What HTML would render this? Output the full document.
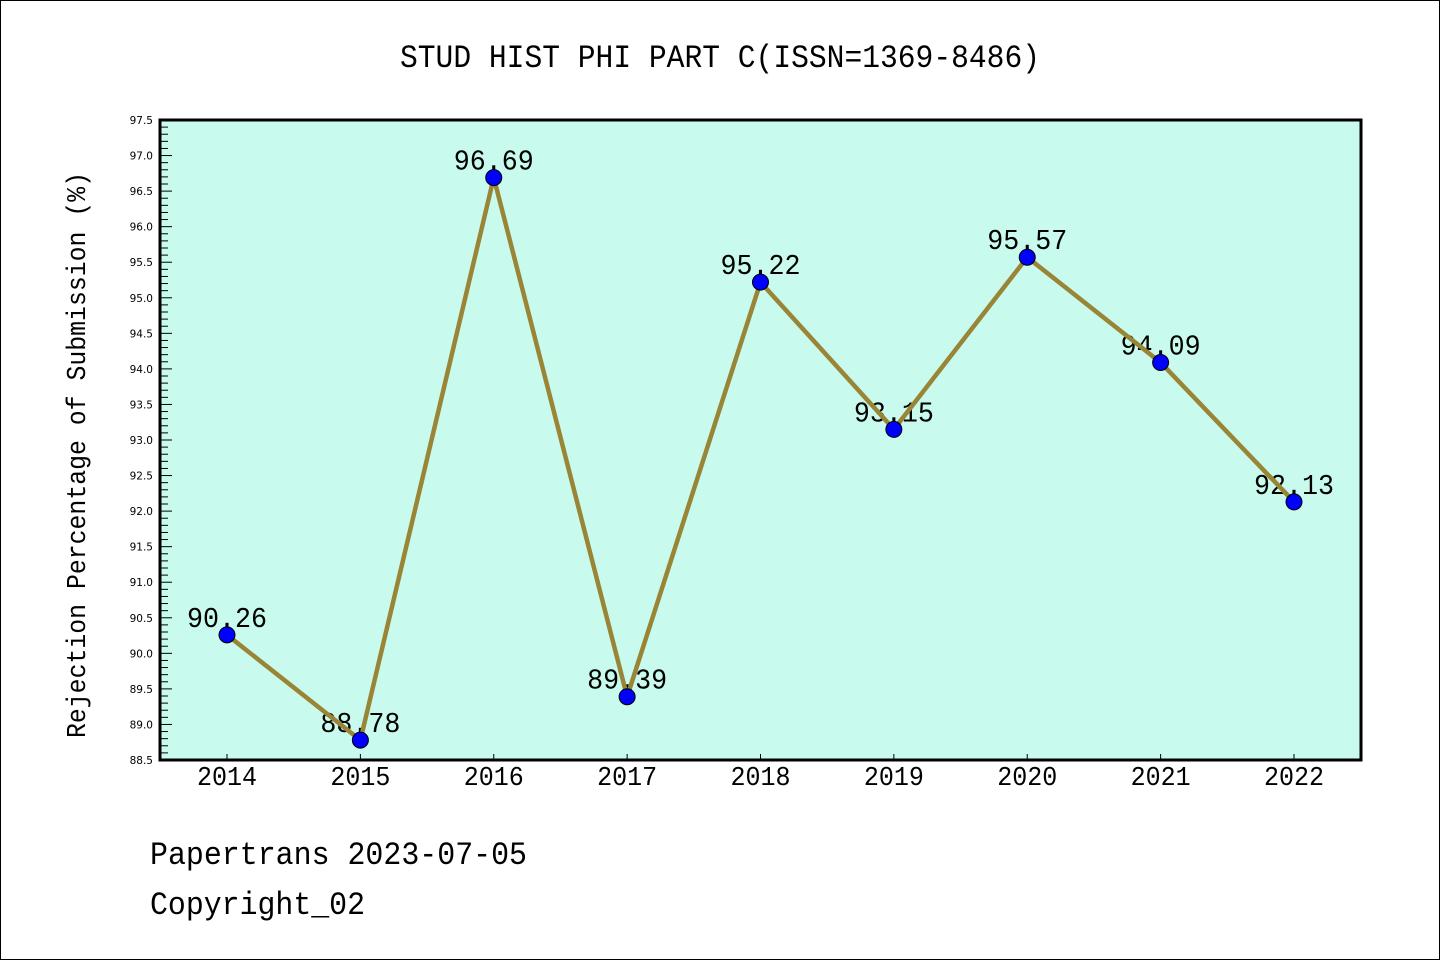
<!DOCTYPE html>
<html><head><meta charset="utf-8"><style>
html,body{margin:0;padding:0;background:#fff}
svg{display:block}
text{font-family:"Liberation Mono","DejaVu Sans Mono",monospace;fill:#000}
.tk{font-family:"DejaVu Sans","Liberation Sans",sans-serif;font-size:10.5px}
</style></head><body>
<svg id="chart" width="1440" height="960" viewBox="0 0 1440 960">
<rect x="0.5" y="0.5" width="1439" height="959" fill="#fff" stroke="#000"/>
<text x="720" y="67" text-anchor="middle" font-size="32" textLength="640" lengthAdjust="spacingAndGlyphs">STUD HIST PHI PART C(ISSN=1369-8486)</text>
<rect x="160" y="120" width="1201" height="640" fill="#c8fbee"/>
<g id="yt"></g><g id="xt"></g><g id="series"></g>
<rect x="160" y="120" width="1201" height="640" fill="none" stroke="#000" stroke-width="3"/>
<text transform="translate(85,455) rotate(-90)" text-anchor="middle" font-size="27" textLength="566" lengthAdjust="spacingAndGlyphs">Rejection Percentage of Submission (%)</text>
<text x="150" y="864" font-size="32" textLength="377" lengthAdjust="spacingAndGlyphs">Papertrans 2023-07-05</text>
<text x="150" y="914" font-size="32" textLength="215" lengthAdjust="spacingAndGlyphs">Copyright_02</text>
</svg>
<script>
const years=["2014","2015","2016","2017","2018","2019","2020","2021","2022"];
const values=[90.26,88.78,96.69,89.39,95.22,93.15,95.57,94.09,92.13];
const labels=["90.26","88.78","96.69","89.39","95.22","93.15","95.57","94.09","92.13"];
const yMin=88.5,yMax=97.5;
const NS="http://www.w3.org/2000/svg";
function X(i){return 227+i*(1294-227)/(years.length-1);}
function Y(v){return 760-(v-yMin)/(yMax-yMin)*640;}
function mk(t,a,p){const e=document.createElementNS(NS,t);for(const k in a)e.setAttribute(k,a[k]);p.appendChild(e);return e;}
const yt=document.getElementById('yt'),xt=document.getElementById('xt'),sg=document.getElementById('series');
for(let k=0;k<=90;k++){const v=yMin+k*0.1,y=Y(v),maj=k%5===0;
 const l=mk('line',{x1:160,x2:160+(maj?12:8),y1:y,y2:y,stroke:'#000','stroke-width':1},yt);
 
 if(maj){const t=mk('text',{x:153,y:y+4,'text-anchor':'end',class:'tk'},yt);t.textContent=v.toFixed(1);
 }}
years.forEach((yr,i)=>{const x=X(i);
 const l=mk('line',{x1:x,x2:x,y1:760,y2:754,stroke:'#000','stroke-width':1},xt);
 
 const t=mk('text',{x:x,y:785,'text-anchor':'middle','font-size':27,textLength:60,lengthAdjust:'spacingAndGlyphs'},xt);t.textContent=yr;
 });
values.forEach((v,i)=>{const t=mk('text',{x:X(i),y:Y(v)-8,'text-anchor':'middle','font-size':29,textLength:80,lengthAdjust:'spacingAndGlyphs'},sg);t.textContent=labels[i];
 });
const pl=mk('polyline',{points:values.map((v,i)=>X(i)+','+Y(v)).join(' '),fill:'none',stroke:'#9a8436','stroke-width':4.5,'stroke-linejoin':'round'},sg);

values.forEach((v,i)=>{const c=mk('circle',{cx:X(i),cy:Y(v),r:8,fill:'#0000ff',stroke:'#000','stroke-width':1},sg);
 });
</script>
</body></html>
